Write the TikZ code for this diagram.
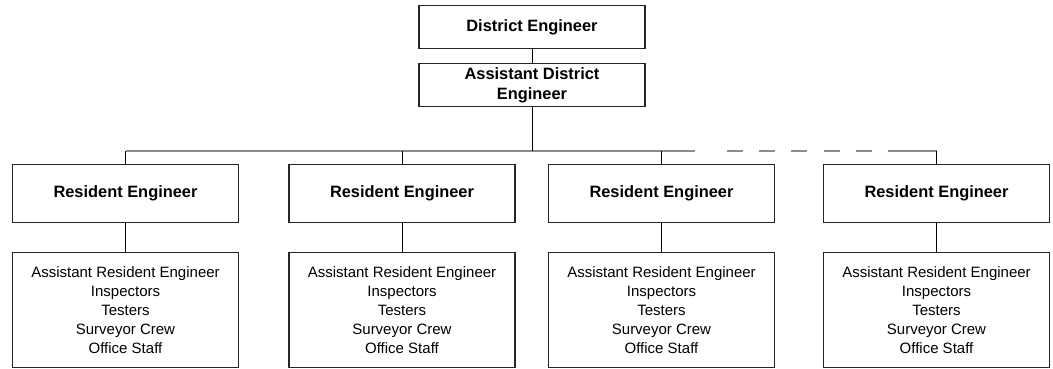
\documentclass[tikz,border=0pt]{standalone}
\usepackage{fontspec}
\setmainfont{Liberation Sans}
\definecolor{busgray}{RGB}{140,140,140}
\begin{document}
\begin{tikzpicture}[x=1pt,y=-1pt,
  box/.style={draw=black!85,line width=1.6pt,inner sep=0pt,align=center},
  topbox/.style={box,minimum width=226pt,minimum height=43pt,font=\fontsize{16.4}{20}\selectfont\bfseries},
  rebox/.style={box,minimum width=226pt,minimum height=58pt,font=\fontsize{16.4}{20}\selectfont\bfseries},
  staffbox/.style={box,minimum width=226pt,minimum height=115pt,font=\fontsize{15}{19}\selectfont},
  conn/.style={line width=1pt,black},
  bus/.style={line width=1.8pt,busgray}]
\useasboundingbox (0,0) rectangle (1053,369);
\node[topbox] (de) at (532,27) {District Engineer};
\node[topbox] (ade) at (532,85) {Assistant District\\Engineer};
\foreach \i/\x in {1/125.5,2/402,3/661.5,4/936.5}{
  \node[rebox] (re\i) at (\x,193.5) {Resident Engineer};
  \node[staffbox] (st\i) at (\x,310) {Assistant Resident Engineer\\Inspectors\\Testers\\Surveyor Crew\\Office Staff};
  \coordinate (b\i) at (\x,151);
}
\coordinate (bus) at (532,151);
\coordinate (s1) at (695,151);
\coordinate (d1) at (727,151);
\coordinate (d2) at (872,151);
\coordinate (s2) at (888,151);
\draw[bus] (b1) -- (s1);
\draw[bus,dash pattern=on 16pt off 16.2pt] (d1) -- (d2);
\draw[bus] (s2) -- (b4);
\draw[conn] (de.south) -- (ade.north);
\draw[conn] (ade.south) -- (bus);
\foreach \i in {1,2,3,4}{
  \draw[conn] (b\i) -- (re\i.north);
  \draw[conn] (re\i.south) -- (st\i.north);
}
\end{tikzpicture}
\end{document}
